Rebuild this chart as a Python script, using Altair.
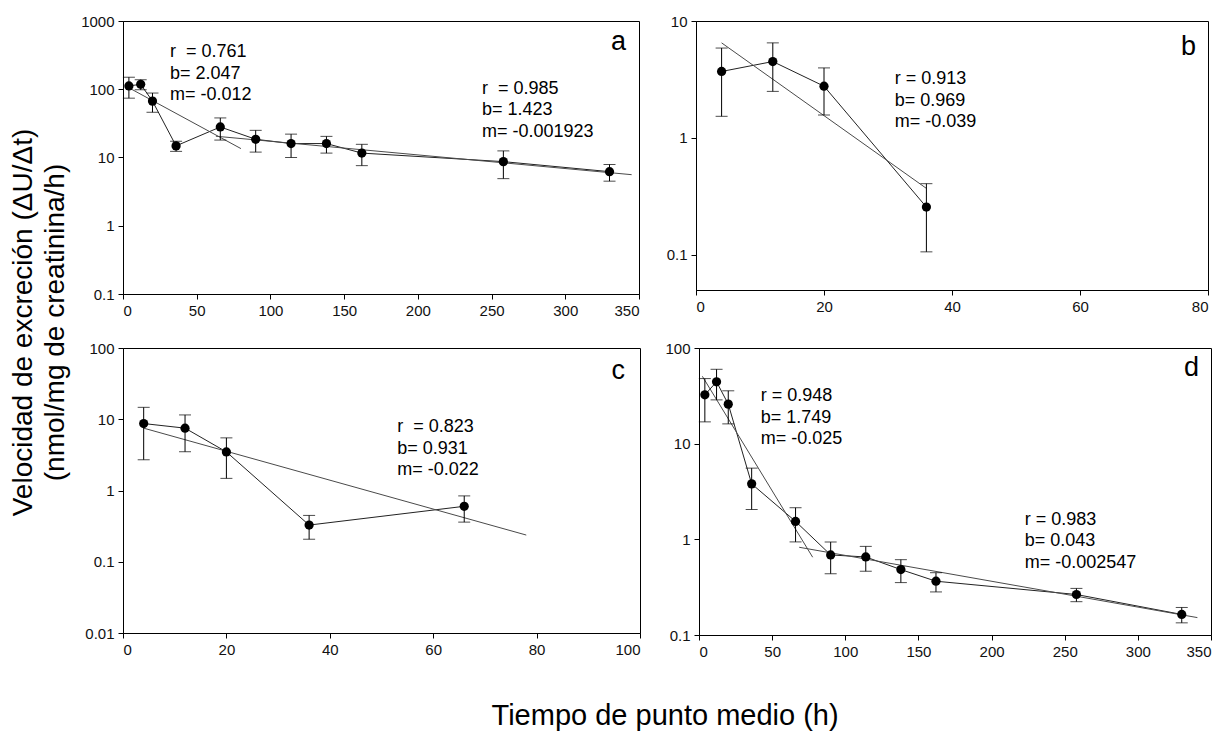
import altair as alt
import pandas as pd

FONT = "Liberation Sans"
NB = "\u00a0"

# ---------------- data ----------------
# panel a
a_t = [4, 12, 20, 36, 66, 90, 114, 138, 162, 258, 330]
a_v = [112, 118, 67, 14.8, 28, 18.5, 16, 16, 11.6, 8.7, 6.2]
a_e = [38, 20, 21, 2.5, 10, 6.5, 6, 4.4, 4, 3.8, 1.7]
a_fit1_t = [4, 80]
a_fit1_v = [105, 13.5]
a_fit2_t = [63, 345]
a_fit2_v = [20.5, 5.6]

# panel b
b_t = [4, 12, 20, 36]
b_v = [3.7, 4.5, 2.77, 0.256]
b_e = [2.17, 2.0, 1.2, 0.15]
b_fit_t = [4, 36]
b_fit_v = [6.5, 0.37]

# panel c
c_t = [4, 12, 20, 36, 66]
c_v = [8.7, 7.5, 3.48, 0.327, 0.60]
c_e = [6.0, 4.0, 2.0, 0.12, 0.24]
c_fit_t = [4, 78]
c_fit_v = [7.5, 0.237]

# panel d
d_t = [4, 12, 20, 36, 66, 90, 114, 138, 162, 258, 330]
d_v = [32.4, 44.3, 25.9, 3.8, 1.54, 0.687, 0.654, 0.483, 0.365, 0.265, 0.164]
d_e = [15.5, 15.6, 9.8, 1.75, 0.6, 0.25, 0.19, 0.13, 0.083, 0.042, 0.03]
d_fit1_t = [2.3, 77.7]
d_fit1_v = [50.6, 0.65]
d_fit2_t = [68.5, 340.7]
d_fit2_v = [0.826, 0.152]

# annotation texts
a_ann = ["r" + NB + " = 0.761\nb= 2.047\nm= -0.012",
         "r" + NB + " = 0.985\nb= 1.423\nm= -0.001923"]
b_ann = ["r = 0.913\nb= 0.969\nm= -0.039"]
c_ann = ["r" + NB + " = 0.823\nb= 0.931\nm= -0.022"]
d_ann = ["r = 0.948\nb= 1.749\nm= -0.025", "r = 0.983\nb= 0.043\nm= -0.002547"]

y_title = ["Velocidad de excreción (ΔU/Δt)", "(nmol/mg de creatinina/h)"]
x_title = "Tiempo de punto medio (h)"


def panel(t, v, e, fits, anns, ann_pos, letter, letter_pos, xdom, xticks,
          ydom, yticks, w, h):
    df = pd.DataFrame({
        "t": t, "v": v,
        "lo": [vv - ee for vv, ee in zip(v, e)],
        "hi": [vv + ee for vv, ee in zip(v, e)],
    })
    rows = []
    for i, (ft, fv) in enumerate(fits):
        for tt, vv in zip(ft, fv):
            rows.append({"fit": i, "t": tt, "v": vv})
    fdf = pd.DataFrame(rows)

    xs = alt.Scale(domain=xdom, nice=False, zero=False)
    ys = alt.Scale(type="log", domain=ydom, nice=False)
    xax = alt.Axis(values=xticks, title=None, grid=False, format="d")
    yax = alt.Axis(values=yticks, title=None, grid=False, format="~g")
    X = alt.X("t:Q", scale=xs, axis=xax)

    base = alt.Chart(df)
    rule = base.mark_rule(color="black", strokeWidth=1).encode(
        x=X, y=alt.Y("lo:Q", scale=ys, axis=yax), y2="hi:Q")
    cap_lo = base.mark_tick(orient="horizontal", size=12, thickness=1,
                            color="black").encode(x=X, y=alt.Y("lo:Q", scale=ys))
    cap_hi = base.mark_tick(orient="horizontal", size=12, thickness=1,
                            color="black").encode(x=X, y=alt.Y("hi:Q", scale=ys))
    conn = base.mark_line(color="#222222", strokeWidth=1).encode(
        x=X, y=alt.Y("v:Q", scale=ys))
    fit = alt.Chart(fdf).mark_line(color="#4a4a4a", strokeWidth=1).encode(
        x=X, y=alt.Y("v:Q", scale=ys), detail="fit:N")
    pts = base.mark_circle(size=85, color="black", opacity=1).encode(
        x=X, y=alt.Y("v:Q", scale=ys))

    layers = [conn, fit, rule, cap_lo, cap_hi, pts]
    for txt, (px, py) in zip(anns, ann_pos):
        layers.append(
            alt.Chart(pd.DataFrame({"s": [txt]})).mark_text(
                align="left", baseline="alphabetic", lineBreak="\n",
                fontSize=18, lineHeight=21.5, font=FONT, color="black"
            ).encode(x=alt.value(px), y=alt.value(py), text="s:N"))
    layers.append(
        alt.Chart(pd.DataFrame({"s": [letter]})).mark_text(
            align="right", baseline="alphabetic", fontSize=27, font=FONT,
            color="black"
        ).encode(x=alt.value(w - letter_pos[0]), y=alt.value(letter_pos[1]),
                 text="s:N"))
    return alt.layer(*layers).properties(width=w, height=h)


pa = panel(a_t, a_v, a_e, [(a_fit1_t, a_fit1_v), (a_fit2_t, a_fit2_v)],
           a_ann, [(47, 36), (359, 72.7)], "a", (13, 29.3),
           [0, 350], [0, 50, 100, 150, 200, 250, 300, 350],
           [0.1, 1000], [0.1, 1, 10, 100, 1000], 516, 273)
pb = panel(b_t, b_v, b_e, [(b_fit_t, b_fit_v)],
           b_ann, [(198.7, 63.3)], "b", (12, 34.3),
           [0, 80], [0, 20, 40, 60, 80],
           [0.05, 10], [0.1, 1, 10], 512, 269)
pc = panel(c_t, c_v, c_e, [(c_fit_t, c_fit_v)],
           c_ann, [(274.3, 84.3)], "c", (15, 31),
           [0, 100], [0, 20, 40, 60, 80, 100],
           [0.01, 100], [0.01, 0.1, 1, 10, 100], 517, 285)
pd_ = panel(d_t, d_v, d_e, [(d_fit1_t, d_fit1_v), (d_fit2_t, d_fit2_v)],
            d_ann, [(61.7, 53.4), (325.7, 176.7)], "d", (12, 28.4),
            [0, 350], [0, 50, 100, 150, 200, 250, 300, 350],
            [0.1, 100], [0.1, 1, 10, 100], 512, 287)

row1 = alt.hconcat(pa, pb, spacing=25)
row2 = alt.hconcat(pc, pd_, spacing=23)
grid = alt.vconcat(row1, row2, spacing=21,
                   title=alt.TitleParams(y_title, orient="left", anchor="middle",
                                         fontSize=28, font=FONT,
                                         fontWeight="normal", lineHeight=32,
                                         color="black", offset=10, dx=14))
chart = alt.vconcat(grid, title=alt.TitleParams(
    x_title, orient="bottom", anchor="middle", fontSize=29, font=FONT,
    fontWeight="normal", color="black", offset=42, dx=54)).properties(
    padding={"left": 2, "top": 5, "right": 5, "bottom": 2}
).configure_view(stroke="black", strokeWidth=1).configure_axis(
    domainColor="black", tickColor="black", tickSize=5, labelFontSize=15,
    labelFont=FONT, labelColor="#111111", labelPadding=4, domainWidth=1,
    tickWidth=1
)

chart.save("out.html", embed_options={"renderer": "svg", "actions": False})
